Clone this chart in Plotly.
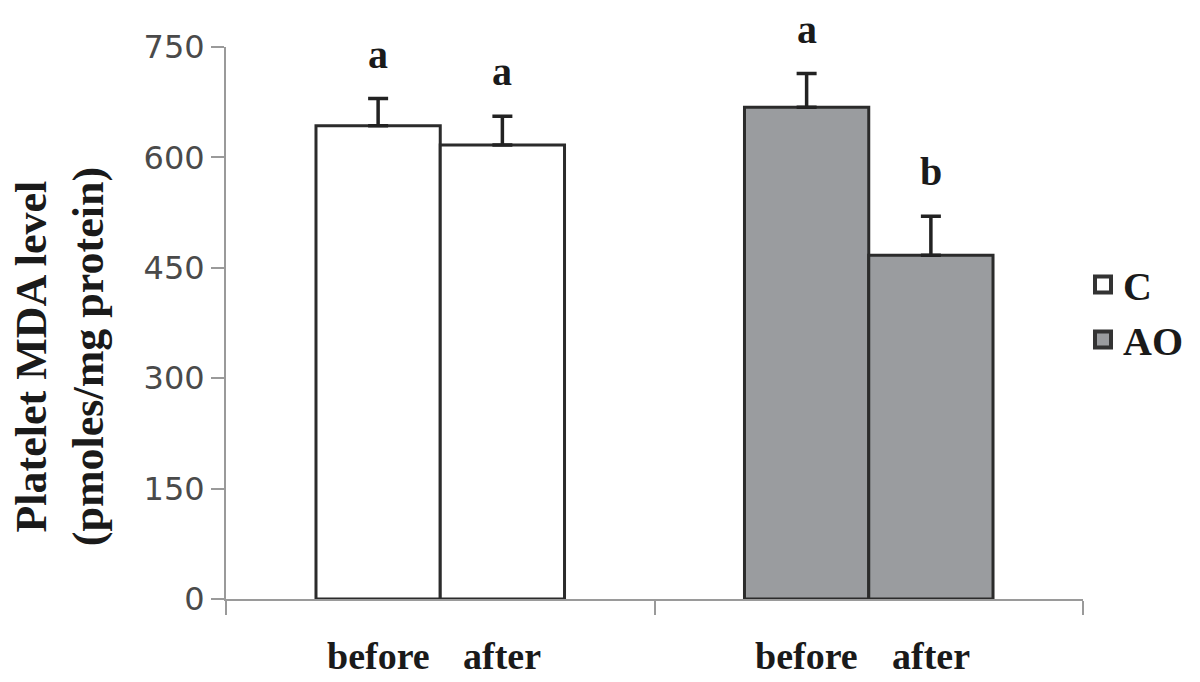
import plotly.graph_objects as go

# datos
groups = ["C", "AO"]
phases = ["before", "after"]
c_mean = [643, 617]
c_err = [37, 39]
ao_mean = [668, 467]
ao_err = [46, 53]
c_letters = ["a", "a"]
ao_letters = ["a", "b"]

W = 0.29
offsets = [-W, 0]

serif = "Liberation Serif, Times New Roman, serif"
dark = "#1a1a1a"

fig = go.Figure()

series = [
    ("C", c_mean, c_err, c_letters, "#ffffff"),
    ("AO", ao_mean, ao_err, ao_letters, "#9a9c9f"),
]

for gi, (name, mean, err, letters, color) in enumerate(series):
    fig.add_trace(go.Bar(
        name=name,
        x=[name] * len(mean),
        y=mean,
        offset=offsets,
        width=W,
        showlegend=False,
        marker=dict(color=color, line=dict(color="#2b2b2b", width=3)),
        error_y=dict(type="data", array=err, symmetric=False,
                     arrayminus=[0] * len(err),
                     color="#222222", thickness=3.5, width=10),
    ))
    # entrada de leyenda con cuadrado grande
    fig.add_trace(go.Scatter(
        name=name, x=[None], y=[None], mode="markers",
        marker=dict(symbol="square", size=16, color=color,
                    line=dict(color="#333333", width=4)),
    ))
    for i, ph in enumerate(phases):
        xc = gi + offsets[i] + W / 2
        # letras de significancia
        fig.add_annotation(x=xc, y=mean[i] + err[i], text="<b>%s</b>" % letters[i],
                           showarrow=False, yanchor="bottom", yshift=20,
                           font=dict(family=serif, size=40, color=dark))
        # etiquetas before / after
        fig.add_annotation(x=xc, y=0, yref="paper", text="<b>%s</b>" % ph,
                           showarrow=False, yanchor="middle", yshift=-57,
                           font=dict(family=serif, size=38, color=dark))

# titulo del eje y
fig.add_annotation(xref="paper", yref="paper", x=0, y=0.438, xshift=-166,
                   text="<b>Platelet MDA level<br>(pmoles/mg protein)</b>",
                   textangle=-90, showarrow=False, xanchor="center", yanchor="middle",
                   font=dict(family=serif, size=44, color=dark))

# el eje x sobresale un poco a la izquierda del eje y
fig.add_shape(type="line", xref="paper", yref="y", x0=-0.016, x1=0, y0=0, y1=0,
              line=dict(color="#9a9a9a", width=2))

# la pagina tiene 8px de margen en el body
fig.update_layout(
    width=1192, height=674,
    margin=dict(l=218, r=111, t=39, b=83),
    plot_bgcolor="white", paper_bgcolor="white",
    barmode="overlay",
    showlegend=True,
    legend=dict(x=1.0, xanchor="left", y=0.52, yanchor="middle",
                font=dict(family=serif, size=40, color=dark, weight="bold"),
                bgcolor="rgba(0,0,0,0)"),
    xaxis=dict(type="category", categoryarray=groups, range=[-0.5, 1.5],
               showline=True, linecolor="#9a9a9a", linewidth=2,
               ticks="outside", tickson="boundaries", ticklen=14,
               tickcolor="#9a9a9a", tickwidth=2,
               showticklabels=False, showgrid=False, zeroline=False),
    yaxis=dict(range=[0, 750], tickvals=[0, 150, 300, 450, 600, 750],
               showline=True, linecolor="#9a9a9a", linewidth=2,
               ticks="outside", ticklen=13, tickcolor="#9a9a9a", tickwidth=2,
               showgrid=False, zeroline=False,
               tickfont=dict(family="DejaVu Sans, Verdana, sans-serif", size=32, color="#4a4a4a")),
)

fig.write_html("out.html")
